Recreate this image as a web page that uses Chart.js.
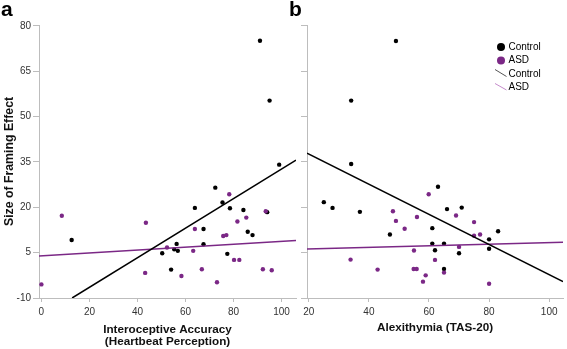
<!DOCTYPE html>
<html>
<head>
<meta charset="utf-8">
<script src="https://cdn.jsdelivr.net/npm/chart.js@4/dist/chart.umd.min.js"></script>
<style>
  html, body { margin: 0; padding: 0; background: #fff; }
  #wrap { position: relative; width: 567px; height: 349px; overflow: hidden; }
  canvas { position: absolute; top: 0; }
</style>
</head>
<body>
<div id="wrap">
  <canvas id="panelA" width="300" height="349" style="left:0"></canvas>
  <canvas id="panelB" width="281" height="349" style="left:286px"></canvas>
</div>
<script>
// tick labels
const yTicks = [-10, 5, 20, 35, 50, 65, 80];
const xTicksA = [0, 20, 40, 60, 80, 100];
const xTicksB = [20, 40, 60, 80, 100];

// panel a: interoceptive accuracy vs framing effect  [x, y]
const accControl = [[12.6, 9.2], [50.3, 4.8], [54.0, -0.6], [55.3, 6.1], [56.3, 7.9], [56.8, 5.6],
  [63.9, 19.8], [67.5, 12.8], [67.5, 7.8], [72.4, 26.5], [75.4, 21.6], [77.4, 4.6], [78.5, 19.7],
  [84.1, 19.1], [85.9, 11.9], [87.9, 10.8], [91.0, 75.1], [94.0, 18.4], [95.0, 55.3], [99.0, 34.1]];
const accASD = [[0, -5.5], [8.5, 17.2], [43.2, -1.7], [43.5, 14.9], [52.3, 6.7], [58.3, -2.7],
  [63.2, 5.6], [63.9, 12.8], [66.8, -0.5], [73.1, -4.8], [75.7, 10.5], [77.0, 10.8], [78.2, 24.3],
  [80.2, 2.6], [81.6, 15.3], [82.4, 2.6], [85.3, 16.6], [92.2, -0.5], [93.4, 18.7], [95.9, -0.8]];
const accControlFit = [[12.8, -10], [106, 35.6]];
const accASDFit = [[-1, 3.9], [106, 9.0]];

// panel b: alexithymia vs framing effect  [x, y]
const alexControl = [[25.0, 21.7], [27.9, 19.8], [34.1, 55.3], [34.1, 34.3], [37.0, 18.5], [47.0, 11.0],
  [49.0, 75.0], [61.1, 13.1], [61.1, 8.0], [62.0, 5.8], [63.0, 26.8], [65.0, 8.0], [65.0, -0.4],
  [66.0, 19.4], [70.0, 4.8], [70.9, 19.9], [80.0, 9.4], [80.0, 6.3], [83.0, 12.1]];
const alexASD = [[33.9, 2.7], [42.9, -0.6], [48.0, 18.7], [49.0, 15.5], [51.9, 12.9], [55.0, 5.7],
  [54.9, -0.4], [55.9, -0.4], [56.0, 16.8], [58.9, -2.5], [58.0, -4.6], [59.9, 24.3], [62.0, 2.6],
  [65.0, -1.6], [69.0, 17.3], [70.0, 6.9], [75.0, 15.1], [75.0, 10.6], [77.0, 11.0], [80.0, -5.3]];
const alexControlFit = [[19.4, 37.9], [104.6, -4.6]];
const alexASDFit = [[19.4, 6.2], [104.6, 8.4]];

const BLACK = '#000000';
const PURPLE = '#7b2886';
const AXIS = '#bdbdbd';
const FONT = '"Liberation Sans", Arial, sans-serif';

const pts = arr => arr.map(p => ({ x: p[0], y: p[1] }));

function makeDatasets(ctrl, asd, ctrlFit, asdFit) {
  return [
    { label: 'Control', data: pts(ctrlFit), showLine: true, borderColor: BLACK, borderWidth: 1.5, pointRadius: 0 },
    { label: 'ASD', data: pts(asdFit), showLine: true, borderColor: PURPLE, borderWidth: 1.5, pointRadius: 0 },
    { label: 'ASD', data: pts(asd), backgroundColor: PURPLE, borderWidth: 0, pointRadius: 2.2 },
    { label: 'Control', data: pts(ctrl), backgroundColor: BLACK, borderWidth: 0, pointRadius: 2.2 }
  ];
}

// panel letter + optional legend drawn on the canvas
const panelLabel = {
  id: 'panelLabel',
  afterDraw(chart, args, opts) {
    const ctx = chart.ctx;
    ctx.save();
    ctx.fillStyle = '#000';
    ctx.font = 'bold 21px ' + FONT;
    ctx.textBaseline = 'alphabetic';
    ctx.fillText(opts.text, opts.x, 16);
    if (opts.legend) {
      const lx = opts.legendX;
      ctx.font = '10px ' + FONT;
      ctx.textBaseline = 'middle';
      ctx.beginPath(); ctx.arc(lx + 6, 47, 4, 0, Math.PI * 2); ctx.fillStyle = BLACK; ctx.fill();
      ctx.beginPath(); ctx.arc(lx + 6, 60.5, 4, 0, Math.PI * 2); ctx.fillStyle = PURPLE; ctx.fill();
      ctx.lineWidth = 1;
      ctx.strokeStyle = '#555';
      ctx.beginPath(); ctx.moveTo(lx, 69.5); ctx.lineTo(lx + 11.5, 76.5); ctx.stroke();
      ctx.strokeStyle = '#c58bcb';
      ctx.beginPath(); ctx.moveTo(lx, 83.5); ctx.lineTo(lx + 11.5, 90); ctx.stroke();
      ctx.fillStyle = '#000';
      ctx.fillText('Control', lx + 13.5, 47);
      ctx.fillText('ASD', lx + 13.5, 60.5);
      ctx.fillText('Control', lx + 13.5, 74);
      ctx.fillText('ASD', lx + 13.5, 87.5);
    }
    ctx.restore();
  }
};

function makeConfig(datasets, xMin, xMax, xTicks, yWidth, showY, xTitle, titlePad, rightPad, label) {
  return {
    type: 'scatter',
    data: { datasets: datasets },
    plugins: [panelLabel],
    options: {
      responsive: false,
      animation: false,
      layout: { padding: { top: 25, right: rightPad, left: 0, bottom: 0 } },
      plugins: {
        legend: { display: false },
        tooltip: { enabled: false },
        panelLabel: label
      },
      scales: {
        x: {
          type: 'linear',
          min: xMin,
          max: xMax,
          afterBuildTicks: s => { s.ticks = xTicks.map(v => ({ value: v })); },
          afterFit: s => { s.height = 51; },
          grid: { drawOnChartArea: false, drawTicks: true, tickLength: 4, color: AXIS },
          border: { color: AXIS, width: 1 },
          ticks: { color: '#333', padding: 4, maxRotation: 0, font: { family: FONT, size: 10 } },
          title: {
            display: true, text: xTitle, color: '#111',
            font: { family: FONT, size: 11.7, weight: 'bold', lineHeight: 1 },
            padding: { top: 0, bottom: titlePad }
          }
        },
        y: {
          type: 'linear',
          min: -10,
          max: 80.3,
          afterBuildTicks: s => { s.ticks = yTicks.map(v => ({ value: v })); },
          afterFit: s => { s.width = yWidth; },
          grid: { drawOnChartArea: false, drawTicks: true, tickLength: 6, color: AXIS },
          border: { color: AXIS, width: 1 },
          ticks: { display: showY, color: '#333', padding: 2, font: { family: FONT, size: 10 } },
          title: {
            display: showY, text: 'Size of Framing Effect', color: '#111',
            font: { family: FONT, size: 12.3, weight: 'bold', lineHeight: 1 },
            padding: { top: 3, bottom: 0 }
          }
        }
      }
    }
  };
}

const configA = makeConfig(
  makeDatasets(accControl, accASD, accControlFit, accASDFit),
  -1, 106, xTicksA, 39, true,
  ['Interoceptive Accuracy', '(Heartbeat Perception)'], 1.5, 2,
  { text: 'a', x: 1, legend: false }
);

const configB = makeConfig(
  makeDatasets(alexControl, alexASD, alexControlFit, alexASDFit),
  19.4, 104.6, xTicksB, 21, false,
  'Alexithymia (TAS-20)', 15, 1,
  { text: 'b', x: 3, legend: true, legendX: 495 - 286 }
);

const chartA = new Chart(document.getElementById('panelA'), configA);
const chartB = new Chart(document.getElementById('panelB'), configB);
</script>
</body>
</html>
